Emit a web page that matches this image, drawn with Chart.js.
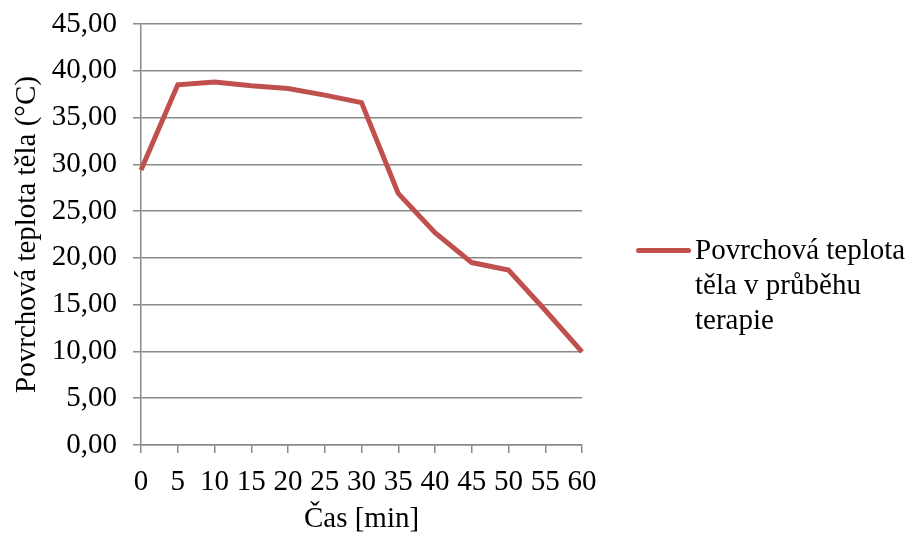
<!DOCTYPE html>
<html>
<head>
<meta charset="utf-8">
<script src="https://cdn.jsdelivr.net/npm/chart.js@4/dist/chart.umd.min.js"></script>
<style>
html,body{margin:0;padding:0;background:#fff;}
#wrap{position:relative;width:912px;height:541px;}
#legend{position:absolute;left:636px;top:232px;font-family:"Liberation Serif","Times New Roman",serif;font-size:29px;line-height:35px;color:#000;}
#legend .sw{position:absolute;left:0;top:16px;width:55px;height:5px;border-radius:3px;background:#C0504D;}
#legend .tx{position:absolute;left:59px;top:0;white-space:nowrap;}
</style>
</head>
<body>
<div id="wrap">
<canvas id="c" width="912" height="541"></canvas>
<div id="legend"><div class="sw"></div><div class="tx">Povrchová teplota<br>těla v průběhu<br>terapie</div></div>
</div>
<script>
const categories = ["0","5","10","15","20","25","30","35","40","45","50","55","60"];
const temperature = [29.4, 38.5, 38.8, 38.4, 38.1, 37.4, 36.6, 26.9, 22.7, 19.5, 18.7, 14.4, 9.95];
const seriesName = "Povrchová teplota těla v průběhu terapie";
const yTitle = "Povrchová teplota těla (°C)";
const xTitle = "Čas [min]";

const fam = "'Liberation Serif', 'Times New Roman', serif";
const font = {family: fam, size: 29};
const yTickFont = {family: fam, size: 29, lineHeight: 0.5};
const gridColor = "#898989";

new Chart(document.getElementById("c"), {
  type: "line",
  data: {
    labels: categories,
    datasets: [{
      label: seriesName,
      data: temperature,
      borderColor: "#C0504D",
      backgroundColor: "#C0504D",
      borderWidth: 5,
      pointRadius: 0,
      tension: 0,
      fill: false
    }]
  },
  options: {
    responsive: false,
    animation: false,
    layout: {padding: {left: 0, right: 330, top: 24, bottom: 0}},
    plugins: {legend: {display: false}, tooltip: {enabled: false}},
    scales: {
      x: {
        offset: false,
        grid: {display: true, drawOnChartArea: false, drawTicks: true, tickLength: 8, color: gridColor, lineWidth: 1.5},
        border: {display: true, color: gridColor, width: 1.5},
        ticks: {font: font, color: "#000", padding: 12, maxRotation: 0, autoSkip: false},
        title: {display: true, text: xTitle, font: font, color: "#000", padding: {top: 0, bottom: 4}},
        afterFit: s => { s.height = 96; }
      },
      y: {
        min: 0, max: 45,
        ticks: {stepSize: 5, font: yTickFont, color: "#000", padding: 16,
          callback: v => v.toFixed(2).replace(".", ",")},
        grid: {color: gridColor, lineWidth: 1.5, tickLength: 8, drawTicks: true},
        border: {display: true, color: gridColor, width: 1.5},
        title: {display: true, text: yTitle, font: font, color: "#000", padding: {top: 10, bottom: 0}},
        afterFit: s => { s.width = 141; }
      }
    }
  }
});
</script>
</body>
</html>
